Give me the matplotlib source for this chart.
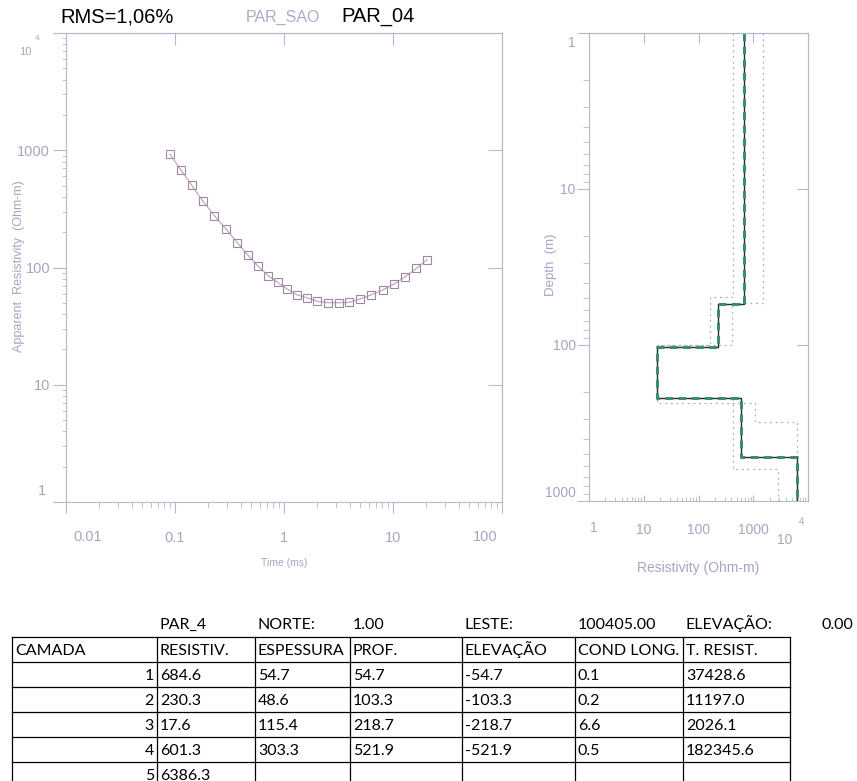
import matplotlib
matplotlib.use('Agg')
import matplotlib.pyplot as plt
import numpy as np
from matplotlib.ticker import LogLocator, NullLocator, NullFormatter, FixedLocator

# sounding PAR_04 : observed apparent resistivity vs time
time_ms = [0.0899, 0.1135, 0.142, 0.179, 0.230, 0.294, 0.373, 0.465, 0.581, 0.718,
           0.875, 1.066, 1.309, 1.616, 2.02, 2.52, 3.18, 3.95, 4.98, 6.28,
           8.05, 10.2, 12.97, 16.4, 20.6]
app_res = [924, 679, 505, 371, 277, 212, 163, 128, 102, 85,
           74.8, 65.6, 58.6, 55.3, 51.5, 50.1, 50.1, 50.4, 53.9, 58.3,
           64.3, 72.3, 83.5, 98.5, 116.6]

# layered model (inversion result)
camada = [1, 2, 3, 4, 5]
resistiv = [684.6, 230.3, 17.6, 601.3, 6386.3]
espessura = [54.7, 48.6, 115.4, 303.3]
prof = [54.7, 103.3, 218.7, 521.9]
elevacao = [-54.7, -103.3, -218.7, -521.9]
cond_long = [0.1, 0.2, 6.6, 0.5]
t_resist = [37428.6, 11197.0, 2026.1, 182345.6]

# equivalence bounds of the model
low_res = [427, 162, 17.6, 427, 2830]
low_prof = [49.5, 100, 218.7, 623]
high_res = [1500, 409, 17.6, 1075, 6300]
high_prof = [53.8, 100, 235, 312]

station = 'PAR_4'
norte = 1.00
leste = 100405.00
elev = 0.00

W, H = 857, 781
TXT = '#a2a7c0'
AXC = '#b3b8cc'
NARROW = ['Liberation Sans Narrow', 'Liberation Sans', 'DejaVu Sans']


def rect(x0, y0, x1, y1):
    return [x0 / W, 1 - y1 / H, (x1 - x0) / W, (y1 - y0) / H]


def fpos(x, y):
    return x / W, 1 - y / H


def steps(res, depth, top, bottom):
    xs = np.repeat(res, 2)
    ys = np.concatenate([[top], np.repeat(depth, 2), [bottom]])
    return xs, ys


fig = plt.figure(figsize=(8.57, 7.81), dpi=100)

# ---------------- sounding curve ----------------
ax1 = fig.add_axes(rect(66, 33, 502, 502))
ax1.set_xscale('log')
ax1.set_yscale('log')
ax1.set_xlim(0.01, 100)
ax1.set_ylim(1, 1e4)
for s in ax1.spines.values():
    s.set_color(AXC)
ax1.plot(time_ms, app_res, '-', color='#c9a6ba', lw=0.9)
ax1.plot(time_ms, app_res, 's', mfc='none', mec='#9a88a6', ms=5.5, mew=0.8)

ax1.xaxis.set_major_locator(FixedLocator([0.01, 0.1, 1, 10, 100]))
ax1.xaxis.set_minor_locator(LogLocator(base=10, subs=np.arange(2, 10), numticks=20))
ax1.xaxis.set_minor_formatter(NullFormatter())
ax1.set_xticklabels(['', '0.1', '1', '10', ''])
ax1.yaxis.set_major_locator(FixedLocator([1, 10, 100, 1000, 1e4]))
ax1.yaxis.set_minor_locator(LogLocator(base=10, subs=np.arange(2, 10), numticks=20))
ax1.yaxis.set_minor_formatter(NullFormatter())
ax1.set_yticklabels(['', '10', '100', '1000', ''])
ax1.tick_params(axis='x', which='major', direction='out', length=8, color=AXC,
                labelcolor=TXT, labelsize=10.5, pad=13)
ax1.tick_params(axis='x', which='minor', direction='out', length=4, color=AXC)
ax1.tick_params(axis='y', which='major', direction='out', length=9.5, color=AXC,
                labelcolor=TXT, labelsize=10.5, pad=2)
ax1.tick_params(axis='y', which='minor', direction='out', length=3, color=AXC)
for lab in ax1.get_xticklabels() + ax1.get_yticklabels():
    lab.set_family(NARROW)

ax1.annotate('0.01', xy=(0.01, 0), xycoords=('data', 'axes fraction'), xytext=(22, -35),
             textcoords='offset pixels', ha='center', va='center', color=TXT, fontsize=10.5, family=NARROW)
ax1.annotate('100', xy=(100, 0), xycoords=('data', 'axes fraction'), xytext=(-17, -35),
             textcoords='offset pixels', ha='center', va='center', color=TXT, fontsize=10.5, family=NARROW)
ax1.annotate('1', xy=(0, 1), xycoords=('axes fraction', 'data'), xytext=(-20, 11),
             textcoords='offset pixels', ha='right', va='center', color=TXT, fontsize=10.5, family=NARROW)
ax1.annotate('10', xy=(0, 1e4), xycoords=('axes fraction', 'data'), xytext=(-35, -19),
             textcoords='offset pixels', ha='right', va='center', color=TXT, fontsize=8, family=NARROW)
ax1.annotate('4', xy=(0, 1e4), xycoords=('axes fraction', 'data'), xytext=(-29, -5),
             textcoords='offset pixels', ha='center', va='center', color=TXT, fontsize=6, family=NARROW)

top1 = ax1.secondary_xaxis('top')
top1.set_xticks([0.1, 1, 10])
top1.xaxis.set_minor_locator(NullLocator())
top1.tick_params(direction='in', length=8.5, color=AXC, labeltop=False)
top1.spines['top'].set_color(AXC)
right1 = ax1.secondary_yaxis('right')
right1.set_yticks([10, 100, 1000])
right1.yaxis.set_minor_locator(NullLocator())
right1.tick_params(direction='in', length=10, color=AXC, labelright=False)
right1.spines['right'].set_color(AXC)

fig.text(*fpos(284, 563), 'Time (ms)', ha='center', va='center', color=TXT, fontsize=7.5, family=NARROW)
fig.text(*fpos(19, 266), 'Apparent  Resistivity  (Ohm-m)', ha='center', va='center', rotation=90,
         color=TXT, fontsize=9, family=NARROW)

# ---------------- layered model ----------------
ax2 = fig.add_axes(rect(589, 33, 808, 501))
ax2.set_xscale('log')
ax2.set_yscale('log')
ax2.set_xlim(1, 1e4)
ax2.set_ylim(1000, 1)
for s in ax2.spines.values():
    s.set_color(AXC)

for r, d in [(low_res, low_prof), (high_res, high_prof)]:
    bx, by = steps(r, d, 1, 1000)
    ax2.plot(bx, by, color='#a9b2b0', lw=0.9, ls=(0, (1.5, 3)))
mx, my = steps(resistiv, prof, 1, 1000)
ax2.plot(mx, my, color='#2b2b2b', lw=1.0)
ax2.plot(mx, my, color='#3a8c74', lw=2.2, ls=(0, (2.5, 1.8)))

ax2.xaxis.set_major_locator(FixedLocator([1, 10, 100, 1000, 1e4]))
ax2.xaxis.set_minor_locator(LogLocator(base=10, subs=np.arange(2, 10), numticks=20))
ax2.xaxis.set_minor_formatter(NullFormatter())
ax2.set_xticklabels(['', '10', '100', '1000', ''])
ax2.yaxis.set_major_locator(FixedLocator([1, 10, 100, 1000]))
ax2.yaxis.set_minor_locator(LogLocator(base=10, subs=np.arange(2, 10), numticks=20))
ax2.yaxis.set_minor_formatter(NullFormatter())
ax2.set_yticklabels(['', '10', '100', ''])
ax2.tick_params(axis='x', which='major', direction='in', length=4.5, color=AXC,
                labelcolor=TXT, labelsize=10, pad=16)
ax2.tick_params(axis='x', which='minor', direction='in', length=3, color=AXC)
ax2.tick_params(axis='y', which='major', direction='out', length=8.5, color=AXC,
                labelcolor=TXT, labelsize=10, pad=1)
ax2.tick_params(axis='y', which='minor', direction='out', length=4, color=AXC)
for lab in ax2.get_xticklabels() + ax2.get_yticklabels():
    lab.set_family(NARROW)

ax2.annotate('1', xy=(1, 0), xycoords=('data', 'axes fraction'), xytext=(5, -27),
             textcoords='offset pixels', ha='center', va='center', color=TXT, fontsize=10, family=NARROW)
ax2.annotate('10', xy=(1e4, 0), xycoords=('data', 'axes fraction'), xytext=(-23, -39),
             textcoords='offset pixels', ha='center', va='center', color=TXT, fontsize=10, family=NARROW)
ax2.annotate('4', xy=(1e4, 0), xycoords=('data', 'axes fraction'), xytext=(-6, -21),
             textcoords='offset pixels', ha='center', va='center', color=TXT, fontsize=7, family=NARROW)
ax2.annotate('1', xy=(0, 1), xycoords=('axes fraction', 'data'), xytext=(-13, -10),
             textcoords='offset pixels', ha='right', va='center', color=TXT, fontsize=10, family=NARROW)
ax2.annotate('1000', xy=(0, 1000), xycoords=('axes fraction', 'data'), xytext=(-13, 8),
             textcoords='offset pixels', ha='right', va='center', color=TXT, fontsize=10, family=NARROW)

top2 = ax2.secondary_xaxis('top')
top2.set_xticks([10, 100, 1000])
top2.xaxis.set_minor_locator(NullLocator())
top2.tick_params(direction='in', length=7, color=AXC, labeltop=False)
top2.spines['top'].set_color(AXC)
right2 = ax2.secondary_yaxis('right')
right2.set_yticks([10, 100])
right2.yaxis.set_minor_locator(NullLocator())
right2.tick_params(direction='in', length=8, color=AXC, labelright=False)
right2.spines['right'].set_color(AXC)

fig.text(*fpos(698, 568), 'Resistivity (Ohm-m)', ha='center', va='center', color=TXT, fontsize=10, family=NARROW)
fig.text(*fpos(551, 265), 'Depth  (m)', ha='center', va='center', rotation=90, color=TXT,
         fontsize=9.5, family=NARROW)

# ---------------- header ----------------
fig.text(*fpos(60, 17), 'RMS=1,06%', ha='left', va='center', fontsize=14.5, color='black',
         family='Liberation Sans')
fig.text(*fpos(246, 17), 'PAR_SAO', ha='left', va='center', fontsize=11.5, color='#a9adc6', family=NARROW)
fig.text(*fpos(341, 17), 'PAR_04', ha='left', va='center', fontsize=14.5, color='black',
         family='Liberation Sans')

# ---------------- result table ----------------
ax3 = fig.add_axes(rect(0, 600, W, H))
ax3.set_xlim(0, W)
ax3.set_ylim(H, 600)
ax3.axis('off')
col_x = [12, 157, 255, 350, 462, 575, 683, 790]
row_top, row_h = 637, 25
TFONT = dict(family='Lato', fontsize=11.5, color='black', va='baseline')
base = 5  # baseline offset below the row centre

head_y = 624
head = [(station, 1), ('NORTE:', 2), (f'{norte:.2f}', 3), ('LESTE:', 4),
        (f'{leste:.2f}', 5), ('ELEVAÇÃO:', 6)]
for txt, c in head:
    ax3.text(col_x[c] + 3, head_y + base, txt, ha='left', **TFONT)
ax3.text(col_x[-1] + 32, head_y + base, f'{elev:.2f}', ha='left', **TFONT)

n_rows = len(camada) + 1
for i in range(n_rows + 1):
    ax3.plot([col_x[0], col_x[-1]], [row_top + i * row_h] * 2, color='black', lw=0.9, clip_on=False)
for x in col_x:
    ax3.plot([x, x], [row_top, row_top + n_rows * row_h], color='black', lw=0.9, clip_on=False)

columns = ['CAMADA', 'RESISTIV.', 'ESPESSURA', 'PROF.', 'ELEVAÇÃO', 'COND LONG.', 'T. RESIST.']
yc = row_top + row_h / 2 + base
for j, name in enumerate(columns):
    ax3.text(col_x[j] + 3, yc, name, ha='left', **TFONT)

for i, n in enumerate(camada):
    y = row_top + (i + 1.5) * row_h + base
    ax3.text(col_x[1] - 3, y, str(n), ha='right', **TFONT)
    ax3.text(col_x[1] + 3, y, f'{resistiv[i]:.1f}', ha='left', **TFONT)
    if i < len(espessura):
        vals = [espessura[i], prof[i], elevacao[i], cond_long[i], t_resist[i]]
        for j, v in enumerate(vals):
            ax3.text(col_x[j + 2] + 3, y, f'{v:.1f}', ha='left', **TFONT)

fig.savefig('out.png', dpi=100)
